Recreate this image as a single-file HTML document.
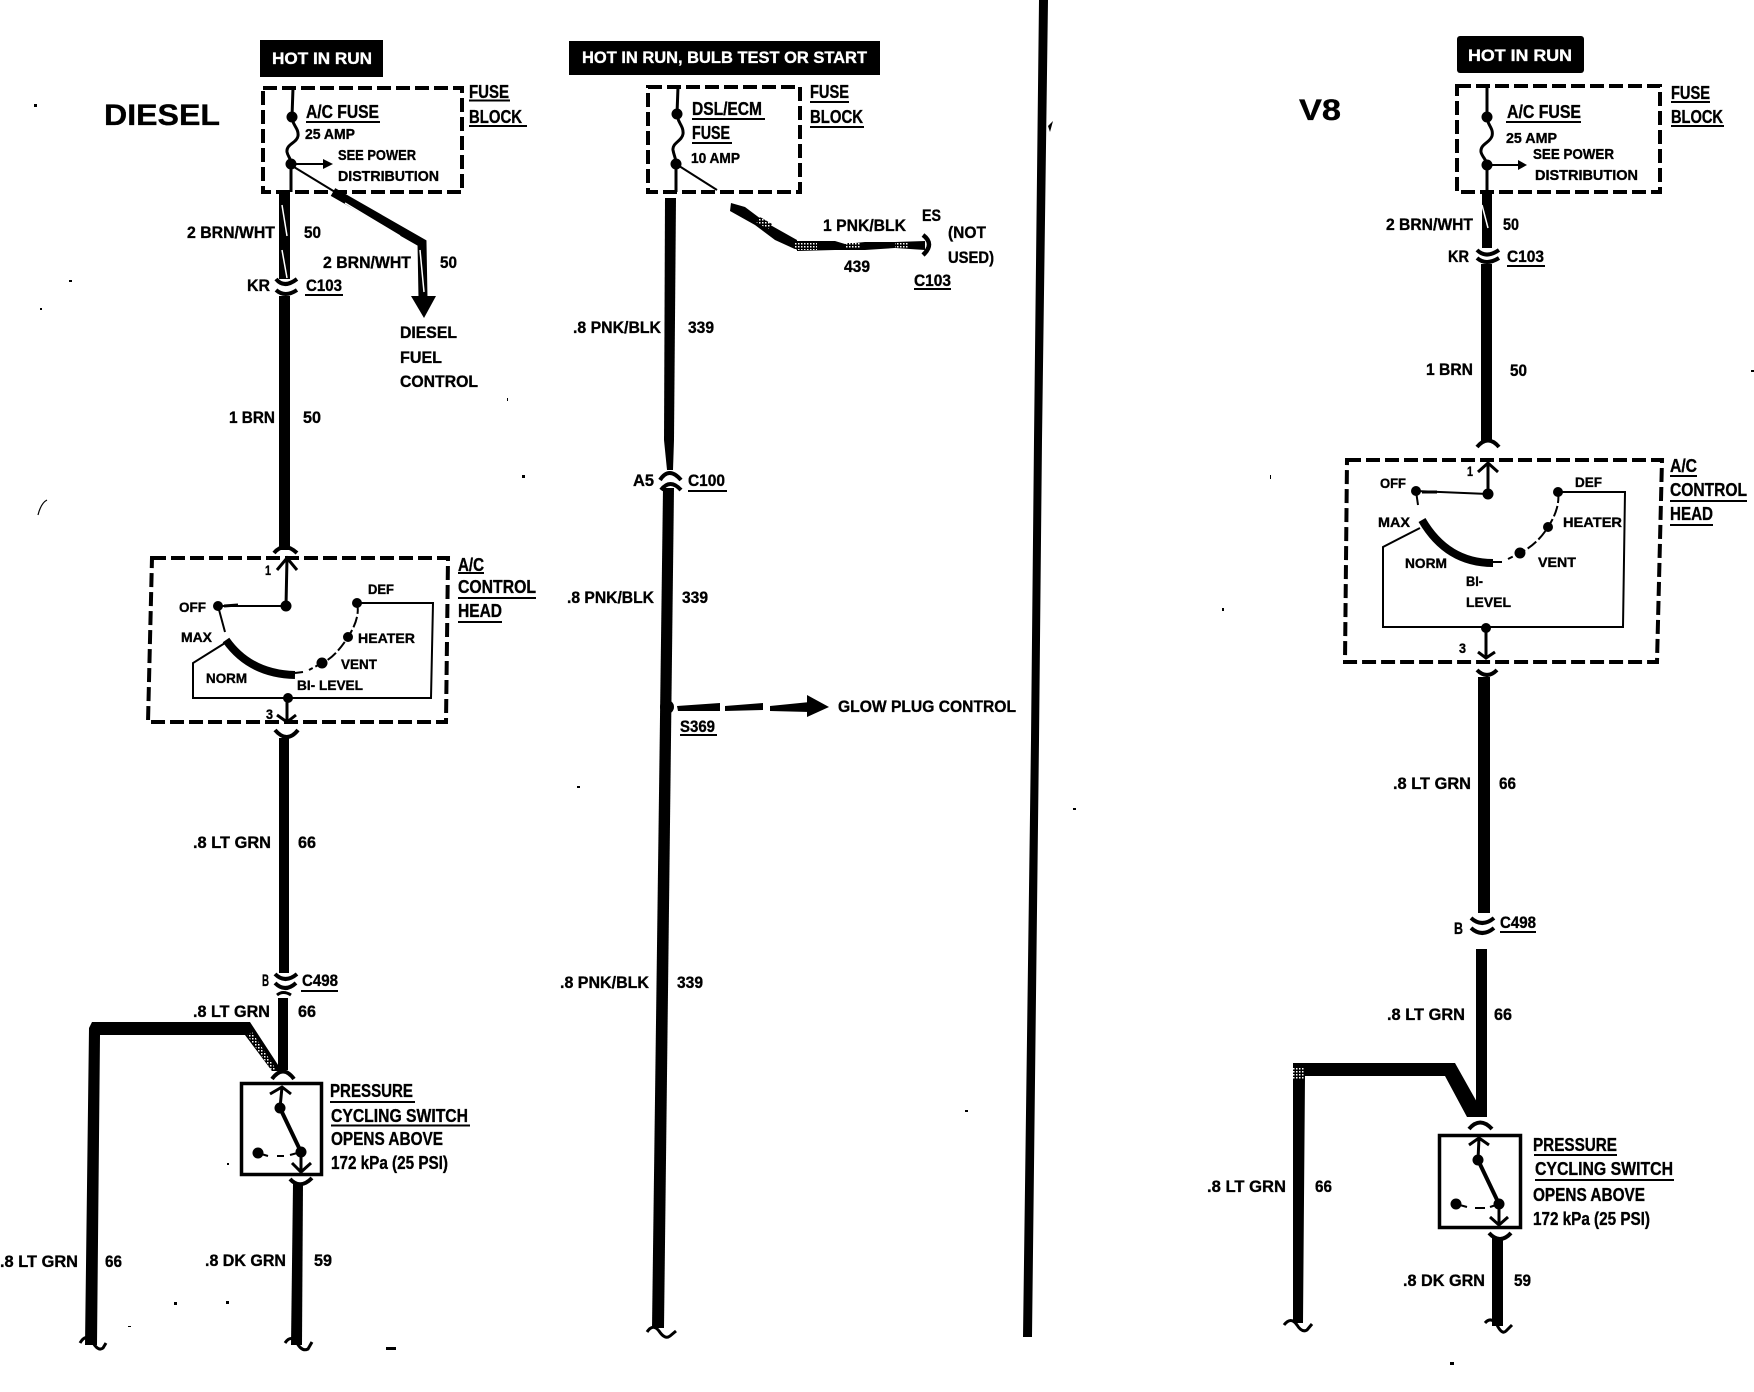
<!DOCTYPE html>
<html><head><meta charset="utf-8"><title>Wiring diagram</title>
<style>
html,body{margin:0;padding:0;background:#fff}
svg{display:block}
text{font-family:"Liberation Sans",sans-serif;font-weight:700;fill:#000;stroke:#000;stroke-width:.35}
.h{font-size:17px;fill:#fff;stroke:#fff}
.a{font-size:18px}
.w{font-size:17px}
.s{font-size:15px}
.c{font-size:14px}
.u{stroke:#000;stroke-width:2;fill:none}
.t{stroke:#000;stroke-width:2;fill:none}
.m{stroke:#000;stroke-width:3;fill:none}
.d{stroke:#000;stroke-width:4;fill:none;stroke-dasharray:14 5}
.k{stroke:#000;fill:none;stroke-linejoin:miter}
.z{stroke:#fff;stroke-width:1.5;fill:none}
</style></head><body>
<svg xmlns="http://www.w3.org/2000/svg" width="1754" height="1392" viewBox="0 0 1754 1392">
<defs>
<pattern id="hatch" width="3" height="3" patternUnits="userSpaceOnUse"><rect width="3" height="3" fill="#000"/><rect x="0" y="0" width="1.500" height="1.500" fill="#fff"/></pattern>
</defs>
<rect width="1754" height="1392" fill="#fff"/>

<!-- divider -->
<polygon points="1039,0 1048,0 1042,440 1039,740 1032,1337 1023,1337 1031,740 1034,440" fill="#000"/>
<path d="M1048,126 L1053,121 L1050,132 Z" fill="#000"/>

<!-- ===== DIESEL ===== -->
<text x="104" y="125" font-size="30" textLength="116" lengthAdjust="spacingAndGlyphs">DIESEL</text>
<rect x="260" y="40" width="123" height="37" fill="#000"/>
<text class="h" x="272" y="64" textLength="100" lengthAdjust="spacingAndGlyphs">HOT IN RUN</text>
<rect class="d" x="263" y="88" width="199" height="104"/>
<text class="a" x="469" y="98" textLength="40" lengthAdjust="spacingAndGlyphs">FUSE</text>
<line class="u" x1="469" y1="100.500" x2="510" y2="100.500"/>
<text class="a" x="469" y="123" textLength="53" lengthAdjust="spacingAndGlyphs">BLOCK</text>
<line class="u" x1="469" y1="126" x2="527" y2="126"/>
<text class="a" x="306" y="118" textLength="73" lengthAdjust="spacingAndGlyphs">A/C FUSE</text>
<line class="u" x1="306" y1="122" x2="380" y2="122"/>
<text class="s" x="305" y="139" textLength="50" lengthAdjust="spacingAndGlyphs">25 AMP</text>
<text class="s" x="338" y="160" textLength="78" lengthAdjust="spacingAndGlyphs">SEE POWER</text>
<text class="s" x="338" y="181" textLength="101" lengthAdjust="spacingAndGlyphs">DISTRIBUTION</text>
<path class="m" d="M293,88 L292,117 C292,125 299,128 298,136 C297,143 286,144 287,152 C288,157 291,158 291,164 L291,192"/>
<circle cx="292" cy="117" r="5.500"/><circle cx="291" cy="164" r="5.500"/>
<line class="t" x1="291" y1="164" x2="326" y2="164"/><polygon points="323,159 333,164 323,169"/>
<line class="t" x1="294" y1="167" x2="335" y2="192"/>
<path class="k" stroke-width="9" d="M333,192 L422,243 L423,298"/>
<path class="z" d="M345,203 L400,236 M420,250 L424,292"/>
<polygon points="411,296 436,296 424,318"/>
<rect x="279" y="193" width="11" height="86"/>
<path class="z" d="M282,205 L287,236 M282,250 L287,278"/>
<path class="k" stroke-width="4" d="M276,279 Q284,289 297,279"/>
<path class="k" stroke-width="4" d="M276,290 Q285,298 297,290"/>
<rect x="279" y="296" width="11" height="254"/>
<path class="k" stroke-width="4" d="M274,553 Q284,541 297,553"/>
<text class="w" x="187" y="238" textLength="88" lengthAdjust="spacingAndGlyphs">2 BRN/WHT</text>
<text class="w" x="304" y="238" textLength="17" lengthAdjust="spacingAndGlyphs">50</text>
<text class="w" x="247" y="291" textLength="23" lengthAdjust="spacingAndGlyphs">KR</text>
<text class="w" x="306" y="291" textLength="36" lengthAdjust="spacingAndGlyphs">C103</text>
<line class="u" x1="305" y1="295" x2="343" y2="295"/>
<text class="w" x="323" y="268" textLength="88" lengthAdjust="spacingAndGlyphs">2 BRN/WHT</text>
<text class="w" x="440" y="268" textLength="17" lengthAdjust="spacingAndGlyphs">50</text>
<text class="w" x="400" y="338" textLength="57" lengthAdjust="spacingAndGlyphs">DIESEL</text>
<text class="w" x="400" y="363" textLength="42" lengthAdjust="spacingAndGlyphs">FUEL</text>
<text class="w" x="400" y="387" textLength="78" lengthAdjust="spacingAndGlyphs">CONTROL</text>
<text class="w" x="229" y="423" textLength="46" lengthAdjust="spacingAndGlyphs">1 BRN</text>
<text class="w" x="303" y="423" textLength="18" lengthAdjust="spacingAndGlyphs">50</text>

<!-- diesel control head -->
<path class="d" d="M152,558 L448,558 L446,722 L148,722 Z"/>
<path class="m" d="M277,570 L287,558 L297,570 M287,558 L286,606"/>
<line class="t" x1="218" y1="606" x2="286" y2="606"/>
<line class="m" x1="224" y1="606" x2="238" y2="605"/>
<circle cx="286" cy="606" r="5.500"/><circle cx="218" cy="606" r="5"/>
<circle cx="357" cy="603" r="5"/><circle cx="348" cy="637" r="5"/><circle cx="322" cy="663" r="5.500"/>
<path class="t" d="M357,603 L433,603 L431,698 L193,698 L193,663 L225,643"/>
<path class="t" d="M218,606 L225,632"/>
<path class="t" d="M357,603 C360,615 354,628 348,637 C340,650 330,660 322,663 L309,670" stroke-dasharray="11 3"/>
<path class="k" stroke-width="8" d="M226,640 Q250,674 295,675"/>
<line class="t" x1="295" y1="673" x2="303" y2="672"/>
<circle cx="288" cy="698" r="5"/>
<path class="m" d="M287,698 L287,722 M277,715 L287,722 L296,715"/>
<path class="k" stroke-width="4" d="M275,730 Q287,744 298,730"/>
<rect x="279" y="738" width="10" height="235"/>
<text class="c" x="265" y="575" textLength="6" lengthAdjust="spacingAndGlyphs">1</text>
<text class="c" x="266" y="719" textLength="7" lengthAdjust="spacingAndGlyphs">3</text>
<text class="c" x="179" y="612" textLength="27" lengthAdjust="spacingAndGlyphs">OFF</text>
<text class="c" x="368" y="594" textLength="26" lengthAdjust="spacingAndGlyphs">DEF</text>
<text class="c" x="181" y="642" textLength="31" lengthAdjust="spacingAndGlyphs">MAX</text>
<text class="c" x="358" y="643" textLength="57" lengthAdjust="spacingAndGlyphs">HEATER</text>
<text class="c" x="341" y="669" textLength="36" lengthAdjust="spacingAndGlyphs">VENT</text>
<text class="c" x="206" y="683" textLength="41" lengthAdjust="spacingAndGlyphs">NORM</text>
<text class="c" x="297" y="690" textLength="66" lengthAdjust="spacingAndGlyphs">BI- LEVEL</text>
<text class="a" x="458" y="571" textLength="26" lengthAdjust="spacingAndGlyphs">A/C</text>
<line class="u" x1="458" y1="573" x2="484" y2="573"/>
<text class="a" x="458" y="593" textLength="78" lengthAdjust="spacingAndGlyphs">CONTROL</text>
<line class="u" x1="458" y1="598" x2="536" y2="598"/>
<text class="a" x="458" y="617" textLength="44" lengthAdjust="spacingAndGlyphs">HEAD</text>
<line class="u" x1="458" y1="622" x2="502" y2="622"/>
<text class="w" x="193" y="848" textLength="78" lengthAdjust="spacingAndGlyphs">.8 LT GRN</text>
<text class="w" x="298" y="848" textLength="18" lengthAdjust="spacingAndGlyphs">66</text>

<!-- diesel lower -->
<path class="k" stroke-width="4" d="M275,974 Q285,984 297,974"/>
<path class="k" stroke-width="4" d="M275,983 Q285,993 296,983"/>
<path class="k" stroke-width="3" d="M277,995 Q283,990 291,995"/>
<rect x="278" y="998" width="10" height="72"/>
<text class="w" x="262" y="986" textLength="7" lengthAdjust="spacingAndGlyphs">B</text>
<text class="w" x="302" y="986" textLength="36" lengthAdjust="spacingAndGlyphs">C498</text>
<line class="u" x1="301" y1="991" x2="338" y2="991"/>
<text class="w" x="193" y="1017" textLength="77" lengthAdjust="spacingAndGlyphs">.8 LT GRN</text>
<text class="w" x="298" y="1017" textLength="18" lengthAdjust="spacingAndGlyphs">66</text>
<polygon points="92,1022 250,1022 282,1071 272,1071 245,1035 100,1035 97,1345 85,1345 89,1028" fill="#000"/>
<polygon points="247,1035 272,1071 277,1071 252,1032" fill="url(#hatch)"/>
<path class="k" stroke-width="4" d="M272,1079 Q283,1064 294,1079"/>
<rect x="241.500" y="1083.500" width="80" height="91" fill="none" stroke="#000" stroke-width="3.500"/>
<path class="m" d="M270,1094 L282,1087 L291,1094 M282,1087 L280,1108"/>
<line x1="280" y1="1108" x2="301" y2="1152" stroke="#000" stroke-width="4"/>
<circle cx="280" cy="1108" r="5.500"/><circle cx="301" cy="1152" r="5.500"/><circle cx="258" cy="1153" r="5.500"/>
<path class="t" d="M258,1153 L268,1156 M277,1156 L284,1156 M290,1155 L301,1152"/>
<path class="m" d="M301,1152 L301,1172 M292,1163 L301,1172 L311,1163"/>
<path class="k" stroke-width="4" d="M290,1179 Q300,1190 312,1178"/>
<polygon points="293,1184 303,1184 302,1345 291,1345" fill="#000"/>
<path class="m" d="M80,1343 Q86,1333 92,1341 Q98,1352 103,1348 L106,1343"/>
<path class="m" d="M285,1343 Q291,1334 297,1343 Q302,1352 308,1349 L312,1342"/>
<text class="a" x="330" y="1097" textLength="83" lengthAdjust="spacingAndGlyphs">PRESSURE</text>
<line class="u" x1="330" y1="1102" x2="415" y2="1102"/>
<text class="a" x="331" y="1122" textLength="137" lengthAdjust="spacingAndGlyphs">CYCLING SWITCH</text>
<line class="u" x1="331" y1="1125.500" x2="470" y2="1125.500"/>
<text class="a" x="331" y="1145" textLength="112" lengthAdjust="spacingAndGlyphs">OPENS ABOVE</text>
<text class="a" x="331" y="1169" textLength="117" lengthAdjust="spacingAndGlyphs">172 kPa (25 PSI)</text>
<text class="w" x="0" y="1267" textLength="78" lengthAdjust="spacingAndGlyphs">.8 LT GRN</text>
<text class="w" x="105" y="1267" textLength="17" lengthAdjust="spacingAndGlyphs">66</text>
<text class="w" x="205" y="1266" textLength="81" lengthAdjust="spacingAndGlyphs">.8 DK GRN</text>
<text class="w" x="314" y="1266" textLength="18" lengthAdjust="spacingAndGlyphs">59</text>

<!-- ===== MIDDLE ===== -->
<rect x="569" y="41" width="311" height="34" fill="#000"/>
<text class="h" x="582" y="63" textLength="285" lengthAdjust="spacingAndGlyphs">HOT IN RUN, BULB TEST OR START</text>
<rect class="d" x="648" y="87" width="152" height="105"/>
<path class="m" d="M678,87 L677,114 C677,122 684,126 683,134 C682,141 672,143 673,150 C674,156 676,158 676,164 L676,192"/>
<circle cx="677" cy="114" r="5.500"/><circle cx="676" cy="164" r="5.500"/>
<line class="t" x1="676" y1="164" x2="717" y2="190"/>
<text class="a" x="692" y="115" textLength="70" lengthAdjust="spacingAndGlyphs">DSL/ECM</text>
<line class="u" x1="692" y1="119" x2="765" y2="119"/>
<text class="a" x="692" y="139" textLength="38" lengthAdjust="spacingAndGlyphs">FUSE</text>
<line class="u" x1="692" y1="143" x2="732" y2="143"/>
<text class="s" x="691" y="163" textLength="49" lengthAdjust="spacingAndGlyphs">10 AMP</text>
<text class="a" x="810" y="98" textLength="39" lengthAdjust="spacingAndGlyphs">FUSE</text>
<line class="u" x1="810" y1="102" x2="849" y2="102"/>
<text class="a" x="810" y="123" textLength="53" lengthAdjust="spacingAndGlyphs">BLOCK</text>
<line class="u" x1="810" y1="127" x2="864" y2="127"/>
<polygon points="665,198 676,198 674,440 673,470 667,470 664,440" fill="#000"/>
<polygon points="731,203 745,207 765,222 797,240 797,250 775,240 755,225 730,211" fill="#000"/>
<path d="M797,241 L835,241 L845,244 L865,242 L895,242 L925,241 L925,250 L895,248 L865,250 L835,250 L797,251 Z" fill="#000"/>
<path d="M795,243 h22 v7 h-22 Z M846,243 h14 v6 h-14 Z M895,242 h14 v6 h-14 Z M760,217 l12,7 l-4,5 l-12,-7 Z" fill="url(#hatch)"/>
<path class="k" stroke-width="4.500" d="M923,235 Q935,244 923,255"/>
<text class="w" x="823" y="231" textLength="83" lengthAdjust="spacingAndGlyphs">1 PNK/BLK</text>
<text class="w" x="844" y="272" textLength="26" lengthAdjust="spacingAndGlyphs">439</text>
<text class="w" x="922" y="221" textLength="19" lengthAdjust="spacingAndGlyphs">ES</text>
<text class="w" x="948" y="238" textLength="38" lengthAdjust="spacingAndGlyphs">(NOT</text>
<text class="w" x="948" y="263" textLength="46" lengthAdjust="spacingAndGlyphs">USED)</text>
<text class="w" x="914" y="286" textLength="37" lengthAdjust="spacingAndGlyphs">C103</text>
<line class="u" x1="914" y1="289" x2="951" y2="289"/>
<path class="k" stroke-width="4" d="M660,480 Q669,466 681,480"/>
<path class="k" stroke-width="4" d="M661,490 Q670,478 681,490"/>
<polygon points="663,488 674,488 664,1328 652,1328" fill="#000"/>
<text class="w" x="633" y="486" textLength="21" lengthAdjust="spacingAndGlyphs">A5</text>
<text class="w" x="688" y="486" textLength="37" lengthAdjust="spacingAndGlyphs">C100</text>
<line class="u" x1="688" y1="491" x2="727" y2="491"/>
<text class="w" x="573" y="333" textLength="88" lengthAdjust="spacingAndGlyphs">.8 PNK/BLK</text>
<text class="w" x="688" y="333" textLength="26" lengthAdjust="spacingAndGlyphs">339</text>
<text class="w" x="567" y="603" textLength="87" lengthAdjust="spacingAndGlyphs">.8 PNK/BLK</text>
<text class="w" x="682" y="603" textLength="26" lengthAdjust="spacingAndGlyphs">339</text>
<text class="w" x="560" y="988" textLength="89" lengthAdjust="spacingAndGlyphs">.8 PNK/BLK</text>
<text class="w" x="677" y="988" textLength="26" lengthAdjust="spacingAndGlyphs">339</text>
<circle cx="667" cy="707" r="7"/>
<path d="M677,706 L720,703 L720,711 L678,711 Z M725,706 L763,703 L763,710 L725,711 Z M770,706 L810,702 L810,712 L770,711 Z" fill="#000"/>
<polygon points="807,695 829,707 807,717"/>
<text class="w" x="680" y="732" textLength="35" lengthAdjust="spacingAndGlyphs">S369</text>
<line class="u" x1="680" y1="735" x2="717" y2="735"/>
<text class="w" x="838" y="712" textLength="178" lengthAdjust="spacingAndGlyphs">GLOW PLUG CONTROL</text>
<path class="m" d="M647,1332 Q653,1323 659,1331 Q665,1340 670,1336 L676,1331"/>

<!-- ===== V8 ===== -->
<text x="1299" y="120" font-size="30" textLength="42" lengthAdjust="spacingAndGlyphs">V8</text>
<rect x="1457" y="36" width="127" height="37" rx="3" fill="#000"/>
<text class="h" x="1468" y="61" textLength="104" lengthAdjust="spacingAndGlyphs">HOT IN RUN</text>
<rect class="d" x="1457" y="86" width="203" height="106"/>
<path class="m" d="M1487,87 L1487,117 C1487,125 1494,128 1492,136 C1490,143 1480,144 1481,152 C1482,157 1487,160 1487,165 L1487,192"/>
<circle cx="1487" cy="117" r="5.500"/><circle cx="1487" cy="165" r="5.500"/>
<line class="t" x1="1487" y1="165" x2="1520" y2="165"/><polygon points="1518,160 1527,165 1518,170"/>
<text class="a" x="1507" y="118" textLength="74" lengthAdjust="spacingAndGlyphs">A/C FUSE</text>
<line class="u" x1="1506" y1="122" x2="1581" y2="122"/>
<text class="s" x="1506" y="143" textLength="51" lengthAdjust="spacingAndGlyphs">25 AMP</text>
<text class="s" x="1533" y="159" textLength="81" lengthAdjust="spacingAndGlyphs">SEE POWER</text>
<text class="s" x="1535" y="180" textLength="103" lengthAdjust="spacingAndGlyphs">DISTRIBUTION</text>
<text class="a" x="1671" y="99" textLength="39" lengthAdjust="spacingAndGlyphs">FUSE</text>
<line class="u" x1="1671" y1="102" x2="1710" y2="102"/>
<text class="a" x="1671" y="123" textLength="52" lengthAdjust="spacingAndGlyphs">BLOCK</text>
<line class="u" x1="1671" y1="126" x2="1724" y2="126"/>
<rect x="1482" y="192" width="10" height="56"/>
<path class="z" d="M1482,205 L1488,228"/>
<path class="k" stroke-width="4" d="M1477,250 Q1486,259 1499,250"/>
<path class="k" stroke-width="4" d="M1477,258 Q1486,266 1499,258"/>
<rect x="1481" y="264" width="11" height="178"/>
<path class="k" stroke-width="4" d="M1477,447 Q1488,434 1499,447"/>
<text class="w" x="1386" y="230" textLength="87" lengthAdjust="spacingAndGlyphs">2 BRN/WHT</text>
<text class="w" x="1503" y="230" textLength="16" lengthAdjust="spacingAndGlyphs">50</text>
<text class="w" x="1448" y="262" textLength="21" lengthAdjust="spacingAndGlyphs">KR</text>
<text class="w" x="1507" y="262" textLength="37" lengthAdjust="spacingAndGlyphs">C103</text>
<line class="u" x1="1507" y1="266" x2="1545" y2="266"/>
<text class="w" x="1426" y="375" textLength="47" lengthAdjust="spacingAndGlyphs">1 BRN</text>
<text class="w" x="1510" y="376" textLength="17" lengthAdjust="spacingAndGlyphs">50</text>

<!-- v8 head -->
<path class="d" d="M1347,460 L1662,460 L1657,662 L1345,662 Z"/>
<path class="m" d="M1478,472 L1488,463 L1498,472 M1488,463 L1488,494"/>
<line class="t" x1="1416" y1="491" x2="1488" y2="494"/>
<line class="m" x1="1422" y1="492" x2="1437" y2="492"/>
<circle cx="1488" cy="494" r="5.500"/><circle cx="1416" cy="491" r="5"/>
<circle cx="1558" cy="492" r="5"/><circle cx="1548" cy="527" r="5"/><circle cx="1520" cy="553" r="5.500"/>
<path class="t" d="M1558,492 L1625,492 L1623,627 L1383,627 L1383,547 L1420,528"/>
<path class="t" d="M1416,491 L1418,505"/>
<path class="t" d="M1558,492 C1560,505 1554,518 1548,527 C1540,540 1530,548 1520,553 L1508,559" stroke-dasharray="11 3"/>
<path class="k" stroke-width="8" d="M1422,520 Q1447,563 1493,563"/>
<line class="t" x1="1493" y1="562" x2="1502" y2="562"/>
<circle cx="1486" cy="628" r="5"/>
<path class="m" d="M1486,628 L1486,658 M1478,652 L1486,658 L1495,652"/>
<path class="k" stroke-width="4" d="M1477,670 Q1487,680 1497,670"/>
<rect x="1478" y="677" width="12" height="236"/>
<text class="c" x="1467" y="476" textLength="6" lengthAdjust="spacingAndGlyphs">1</text>
<text class="c" x="1459" y="653" textLength="7" lengthAdjust="spacingAndGlyphs">3</text>
<text class="c" x="1380" y="488" textLength="26" lengthAdjust="spacingAndGlyphs">OFF</text>
<text class="c" x="1575" y="487" textLength="27" lengthAdjust="spacingAndGlyphs">DEF</text>
<text class="c" x="1378" y="527" textLength="32" lengthAdjust="spacingAndGlyphs">MAX</text>
<text class="c" x="1563" y="527" textLength="59" lengthAdjust="spacingAndGlyphs">HEATER</text>
<text class="c" x="1538" y="567" textLength="38" lengthAdjust="spacingAndGlyphs">VENT</text>
<text class="c" x="1405" y="568" textLength="42" lengthAdjust="spacingAndGlyphs">NORM</text>
<text class="c" x="1466" y="586" textLength="17" lengthAdjust="spacingAndGlyphs">BI-</text>
<text class="c" x="1466" y="607" textLength="45" lengthAdjust="spacingAndGlyphs">LEVEL</text>
<text class="a" x="1670" y="472" textLength="27" lengthAdjust="spacingAndGlyphs">A/C</text>
<line class="u" x1="1670" y1="476" x2="1697" y2="476"/>
<text class="a" x="1670" y="496" textLength="77" lengthAdjust="spacingAndGlyphs">CONTROL</text>
<line class="u" x1="1670" y1="501" x2="1747" y2="501"/>
<text class="a" x="1670" y="520" textLength="43" lengthAdjust="spacingAndGlyphs">HEAD</text>
<line class="u" x1="1670" y1="525" x2="1713" y2="525"/>

<!-- v8 lower -->
<text class="w" x="1393" y="789" textLength="78" lengthAdjust="spacingAndGlyphs">.8 LT GRN</text>
<text class="w" x="1499" y="789" textLength="17" lengthAdjust="spacingAndGlyphs">66</text>
<path class="k" stroke-width="4" d="M1471,918 Q1482,928 1494,918"/>
<path class="k" stroke-width="4" d="M1471,928 Q1482,938 1494,928"/>
<text class="w" x="1454" y="934" textLength="9" lengthAdjust="spacingAndGlyphs">B</text>
<text class="w" x="1500" y="928" textLength="36" lengthAdjust="spacingAndGlyphs">C498</text>
<line class="u" x1="1500" y1="932" x2="1536" y2="932"/>
<rect x="1476" y="949" width="11" height="168"/>
<text class="w" x="1387" y="1020" textLength="78" lengthAdjust="spacingAndGlyphs">.8 LT GRN</text>
<text class="w" x="1494" y="1020" textLength="18" lengthAdjust="spacingAndGlyphs">66</text>
<polygon points="1293,1063 1455,1063 1478,1104 1478,1117 1467,1117 1445,1076 1305,1076 1303,1323 1293,1323" fill="#000"/>
<rect x="1293" y="1068" width="11" height="12" fill="url(#hatch)"/>
<path class="k" stroke-width="4" d="M1469,1129 Q1480,1116 1492,1129"/>
<rect x="1439.500" y="1135.500" width="81" height="92" fill="none" stroke="#000" stroke-width="3.500"/>
<path class="m" d="M1469,1145 L1479,1138 L1489,1145 M1479,1138 L1478,1160"/>
<line x1="1478" y1="1160" x2="1499" y2="1204" stroke="#000" stroke-width="4"/>
<circle cx="1478" cy="1160" r="5.500"/><circle cx="1499" cy="1204" r="5.500"/><circle cx="1456" cy="1204" r="5.500"/>
<path class="t" d="M1456,1204 L1467,1207 M1475,1208 L1485,1208 M1490,1207 L1499,1204"/>
<path class="m" d="M1499,1204 L1499,1225 M1490,1217 L1499,1225 L1508,1217"/>
<path class="k" stroke-width="4" d="M1489,1233 Q1500,1245 1511,1233"/>
<rect x="1492" y="1238" width="11" height="88"/>
<path class="m" d="M1284,1325 Q1291,1316 1297,1325 Q1302,1333 1307,1330 L1312,1324"/>
<path class="m" d="M1485,1323 Q1491,1316 1497,1325 Q1502,1335 1506,1331 L1512,1325"/>
<text class="a" x="1533" y="1151" textLength="84" lengthAdjust="spacingAndGlyphs">PRESSURE</text>
<line class="u" x1="1534" y1="1155" x2="1617" y2="1155"/>
<text class="a" x="1535" y="1175" textLength="138" lengthAdjust="spacingAndGlyphs">CYCLING SWITCH</text>
<line class="u" x1="1535" y1="1180" x2="1674" y2="1180"/>
<text class="a" x="1533" y="1201" textLength="112" lengthAdjust="spacingAndGlyphs">OPENS ABOVE</text>
<text class="a" x="1533" y="1225" textLength="117" lengthAdjust="spacingAndGlyphs">172 kPa (25 PSI)</text>
<text class="w" x="1207" y="1192" textLength="79" lengthAdjust="spacingAndGlyphs">.8 LT GRN</text>
<text class="w" x="1315" y="1192" textLength="17" lengthAdjust="spacingAndGlyphs">66</text>
<text class="w" x="1403" y="1286" textLength="82" lengthAdjust="spacingAndGlyphs">.8 DK GRN</text>
<text class="w" x="1514" y="1286" textLength="17" lengthAdjust="spacingAndGlyphs">59</text>

<!-- specks -->
<g fill="#000">
<rect x="34" y="104" width="3" height="3"/><rect x="69" y="280" width="3" height="2"/><rect x="40" y="308" width="2" height="2"/>
<rect x="507" y="398" width="1" height="3"/><rect x="522" y="475" width="3" height="3"/><rect x="226" y="1301" width="3" height="3"/>
<rect x="174" y="1302" width="3" height="3"/><rect x="128" y="1326" width="3" height="1"/><rect x="386" y="1347" width="10" height="3"/>
<rect x="227" y="1163" width="2" height="2"/><rect x="577" y="786" width="3" height="2"/><rect x="1073" y="808" width="3" height="2"/>
<rect x="1222" y="608" width="2" height="3"/><rect x="1450" y="1362" width="4" height="3"/><rect x="1270" y="475" width="1" height="4"/>
<rect x="965" y="1110" width="3" height="2"/><rect x="1751" y="370" width="3" height="2"/>
</g>
<path d="M38,515 Q41,503 47,500" fill="none" stroke="#000" stroke-width="1.200"/>
</svg>
</body></html>
